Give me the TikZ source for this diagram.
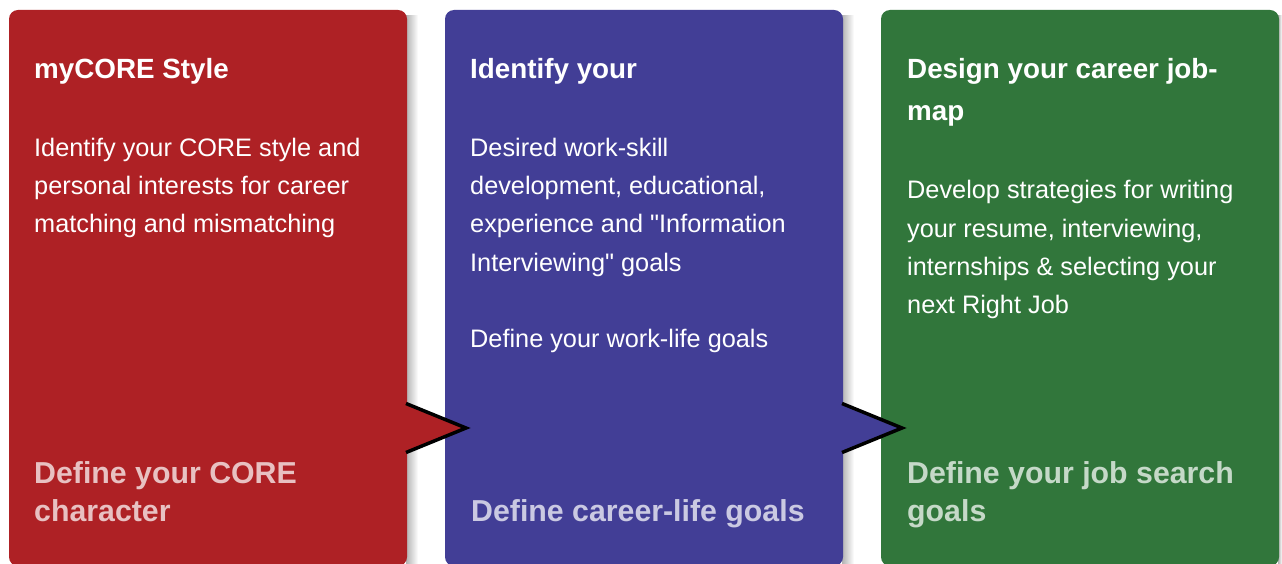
\documentclass[tikz,border=0pt]{standalone}
\usepackage{fontspec}
\setmainfont{Liberation Sans}[Ligatures=TeXOff]
\definecolor{cred}{RGB}{174,33,37}
\definecolor{cblue}{RGB}{66,62,150}
\definecolor{cgreen}{RGB}{49,118,59}
\tikzset{
  card/.style={fill=#1, rounded corners=9pt, draw=none},
  shadowstrip/.style={left color=black!30, right color=white, draw=none},
  ttl/.style={text=white, anchor=base west, inner sep=0pt, font=\fontsize{27.8}{42}\selectfont\bfseries},
  body/.style={text=white, anchor=base west, inner sep=0pt, font=\fontsize{25.3}{38}\selectfont},
  foot/.style={text=white!72!#1, anchor=base west, inner sep=0pt, font=\fontsize{30.3}{38}\selectfont\bfseries},
  pointer/.style={fill=#1, draw=none},
  pointeredge/.style={draw=black, line width=3.5pt, miter limit=10},
}
\begin{document}
\begin{tikzpicture}[x=1pt,y=-1pt]
\useasboundingbox[fill=white] (0,0) rectangle (1282,564);
% shadows
\shade[shadowstrip] (406,16) rectangle (418,566);
\shade[shadowstrip] (842,16) rectangle (854,566);
\shade[shadowstrip] (1278,16) rectangle (1282,566);
% cards
\fill[card=cred] (9,10) rectangle (407,566);
\fill[card=cblue] (445,10) rectangle (843,566);
\fill[card=cgreen] (881,10) rectangle (1279,566);
% pointers
\fill[pointer=cred] (405,402) -- (468,428) -- (405,454) -- cycle;
\draw[pointeredge] (406,403.5) -- (466,428) -- (406,452.5);
\fill[pointer=cblue] (841,402) -- (904,428) -- (841,454) -- cycle;
\draw[pointeredge] (842,403.5) -- (902,428) -- (842,452.5);
% red card text
\node[ttl] (t1) at (34,79) {myCORE Style};
\node[body] (b1a) at (34,157) {Identify your CORE style and};
\node[body] (b1b) at (34,195) {personal interests for career};
\node[body] (b1c) at (34,233) {matching and mismatching};
\node[foot=cred] (f1a) at (34,483) {Define your CORE};
\node[foot=cred] (f1b) at (34,521) {character};
% blue card text
\node[ttl] (t2) at (470,79) {Identify your};
\node[body] (b2a) at (470,157) {Desired work-skill};
\node[body] (b2b) at (470,195) {development, educational,};
\node[body] (b2c) at (470,233) {experience and "Information};
\node[body] (b2d) at (470,271) {Interviewing" goals};
\node[body] (b2e) at (470,347) {Define your work-life goals};
\node[foot=cblue] (f2) at (471,521) {Define career-life goals};
% green card text
\node[ttl] (t3a) at (907,79) {Design your career job-};
\node[ttl] (t3b) at (907,121) {map};
\node[body] (b3a) at (907,199) {Develop strategies for writing};
\node[body] (b3b) at (907,237) {your resume, interviewing,};
\node[body] (b3c) at (907,275) {internships \& selecting your};
\node[body] (b3d) at (907,313) {next Right Job};
\node[foot=cgreen] (f3a) at (907,483) {Define your job search};
\node[foot=cgreen] (f3b) at (907,521) {goals};
\end{tikzpicture}
\end{document}
